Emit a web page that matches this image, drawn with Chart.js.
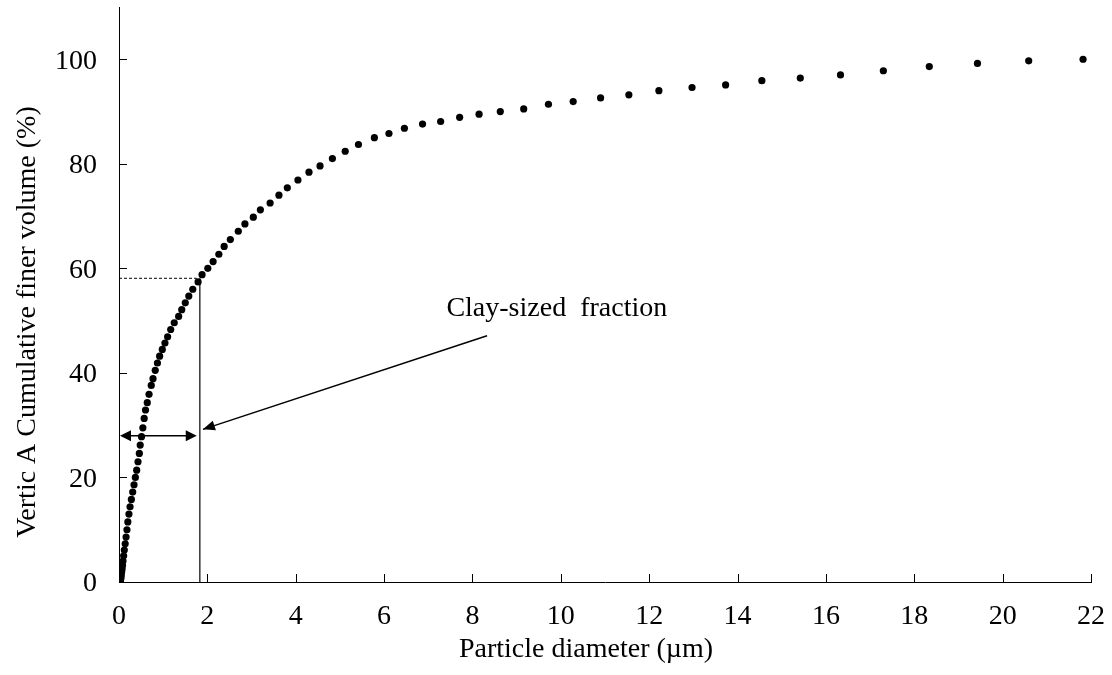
<!DOCTYPE html>
<html>
<head>
<meta charset="utf-8">
<script src="https://cdn.jsdelivr.net/npm/chart.js@4/dist/chart.umd.min.js"></script>
<style>
  html, body { margin: 0; padding: 0; background: #fff; }
  #wrap { position: relative; width: 1112px; height: 675px; }
</style>
</head>
<body>
<div id="wrap"><canvas id="chart"></canvas></div>
<script>
// particle size classes (µm) and cumulative finer volume (%)
const diameters = [
  21.82, 20.59, 19.43, 18.34, 17.30, 16.33, 15.42, 14.55, 13.73, 12.97,
  12.22, 11.54, 10.90, 10.28, 9.72, 9.16, 8.63, 8.15, 7.71, 7.28,
  6.87, 6.46, 6.11, 5.78, 5.42, 5.12, 4.83, 4.55, 4.30, 4.05,
  3.81, 3.62, 3.42, 3.20, 3.04, 2.85, 2.70, 2.52, 2.38, 2.26,
  2.13, 2.01, 1.88, 1.79, 1.67, 1.58, 1.50, 1.42, 1.35, 1.25,
  1.17, 1.10, 1.04, 0.98, 0.92, 0.87, 0.82, 0.77, 0.73, 0.68,
  0.64, 0.60, 0.57, 0.54, 0.51, 0.48, 0.46, 0.43, 0.40, 0.37,
  0.34, 0.31, 0.28, 0.25, 0.225, 0.20, 0.18, 0.16, 0.14, 0.12,
  0.105, 0.09, 0.08, 0.07, 0.06, 0.05, 0.045, 0.04, 0.035, 0.03,
  0.025, 0.02
];
const finerVolume = [
  100.0, 99.7, 99.2, 98.6, 97.8, 97.0, 96.4, 95.9, 95.1, 94.6,
  94.0, 93.2, 92.6, 91.9, 91.4, 90.5, 90.0, 89.5, 88.9, 88.1,
  87.6, 86.8, 85.8, 85.0, 83.7, 82.4, 81.0, 79.6, 78.4, 76.9,
  75.4, 74.0, 72.5, 71.2, 69.8, 68.5, 67.1, 65.5, 64.2, 62.7,
  61.3, 60.0, 58.8, 57.4, 56.0, 54.7, 53.4, 52.1, 50.8, 49.6,
  48.3, 46.9, 45.7, 44.5, 43.2, 41.9, 40.5, 38.9, 37.6, 35.9,
  34.3, 32.9, 31.3, 29.5, 27.8, 26.2, 24.6, 23.0, 21.4, 20.0,
  18.6, 17.2, 15.8, 14.4, 13.0, 11.5, 10.0, 8.6, 7.3, 6.1,
  5.0, 4.0, 3.2, 2.5, 1.9, 1.4, 1.0, 0.7, 0.45, 0.25,
  0.1, 0.0
];
const xTicks = [0, 2, 4, 6, 8, 10, 12, 14, 16, 18, 20, 22];
const yTicks = [0, 20, 40, 60, 80, 100];

// clay/silt boundary marker
const clayLimit = 1.83;
const clayFiner = 58.1;
const dashEnd = 1.76;
const spanLevel = 28;
const spanEnd = 1.76;
const pointerFrom = [8.33, 47.1];
const pointerTo = [1.90, 29.2];
const noteAt = [7.41, 50.9];
const noteText = 'Clay-sized  fraction';

const SERIF = '"Liberation Serif", "Times New Roman", serif';

function arrowHead(ctx, x1, y1, x2, y2, len, half) {
  const a = Math.atan2(y2 - y1, x2 - x1);
  ctx.beginPath();
  ctx.moveTo(x2, y2);
  ctx.lineTo(x2 - len * Math.cos(a) + half * Math.sin(a), y2 - len * Math.sin(a) - half * Math.cos(a));
  ctx.lineTo(x2 - len * Math.cos(a) - half * Math.sin(a), y2 - len * Math.sin(a) + half * Math.cos(a));
  ctx.closePath();
  ctx.fill();
}

// no extra room around the plot for edge labels
function noPadding(s) {
  s.paddingTop = 0;
  s.paddingBottom = 0;
  s.paddingLeft = 0;
  s.paddingRight = 0;
}

const extras = {
  id: 'extras',
  afterDraw(chart) {
    const {ctx, chartArea: area, scales: {x, y}} = chart;
    ctx.save();
    ctx.strokeStyle = '#000';
    ctx.fillStyle = '#000';

    // inward tick marks
    ctx.lineWidth = 1;
    ctx.beginPath();
    xTicks.forEach(v => {
      const px = Math.round(x.getPixelForValue(v)) + 0.5;
      ctx.moveTo(px, area.bottom);
      ctx.lineTo(px, area.bottom - 8);
    });
    yTicks.forEach(v => {
      const py = Math.round(y.getPixelForValue(v)) + 0.5;
      ctx.moveTo(area.left, py);
      ctx.lineTo(area.left + 8, py);
    });
    ctx.stroke();

    // vertical limit line
    ctx.lineWidth = 1.2;
    ctx.beginPath();
    ctx.moveTo(x.getPixelForValue(clayLimit), y.getPixelForValue(0));
    ctx.lineTo(x.getPixelForValue(clayLimit), y.getPixelForValue(clayFiner));
    ctx.stroke();

    // dashed reading line
    ctx.lineWidth = 1;
    ctx.setLineDash([3, 2]);
    ctx.beginPath();
    ctx.moveTo(x.getPixelForValue(0), y.getPixelForValue(clayFiner));
    ctx.lineTo(x.getPixelForValue(dashEnd), y.getPixelForValue(clayFiner));
    ctx.stroke();
    ctx.setLineDash([]);

    // double-headed span arrow
    const sy = y.getPixelForValue(spanLevel);
    const sx0 = x.getPixelForValue(0) + 1;
    const sx1 = x.getPixelForValue(spanEnd);
    ctx.lineWidth = 1.5;
    ctx.beginPath();
    ctx.moveTo(sx0 + 6, sy);
    ctx.lineTo(sx1 - 6, sy);
    ctx.stroke();
    arrowHead(ctx, sx1, sy, sx0, sy, 11, 5.5);
    arrowHead(ctx, sx0, sy, sx1, sy, 11, 5.5);

    // pointer from the note
    const px0 = x.getPixelForValue(pointerFrom[0]), py0 = y.getPixelForValue(pointerFrom[1]);
    const px1 = x.getPixelForValue(pointerTo[0]), py1 = y.getPixelForValue(pointerTo[1]);
    ctx.lineWidth = 1.5;
    ctx.beginPath();
    ctx.moveTo(px0, py0);
    ctx.lineTo(px1, py1);
    ctx.stroke();
    arrowHead(ctx, px0, py0, px1, py1, 12, 5);

    // note text
    ctx.font = '28px ' + SERIF;
    ctx.textAlign = 'left';
    ctx.textBaseline = 'alphabetic';
    ctx.fillText(noteText, x.getPixelForValue(noteAt[0]), y.getPixelForValue(noteAt[1]));

    // axis titles
    ctx.textAlign = 'center';
    ctx.fillText('Particle diameter (\u00b5m)', 586, 657);
    ctx.translate(35, 322);
    ctx.rotate(-Math.PI / 2);
    ctx.fillText('Vertic A Cumulative finer volume (%)', 0, 0);
    ctx.restore();
  }
};

const points = diameters.map((d, i) => ({x: d, y: finerVolume[i]}));

new Chart(document.getElementById('chart'), {
  type: 'scatter',
  data: {
    datasets: [{
      data: points,
      pointRadius: 3.6,
      pointHoverRadius: 3.6,
      pointBackgroundColor: '#000',
      pointBorderWidth: 0,
      showLine: false
    }]
  },
  options: {
    responsive: true,
    maintainAspectRatio: false,
    animation: false,
    events: [],
    layout: { padding: { top: 7, right: 21, left: 0, bottom: 0 } },
    plugins: {
      legend: { display: false },
      tooltip: { enabled: false }
    },
    scales: {
      x: {
        type: 'linear',
        min: 0,
        max: 22,
        afterBuildTicks: s => { s.ticks = xTicks.map(v => ({value: v})); },
        afterFit: s => { s.height = 93; noPadding(s); },
        grid: { display: false, drawTicks: false },
        border: { display: true, color: '#000', width: 1 },
        ticks: {
          padding: 18,
          color: '#000',
          font: { family: SERIF, size: 28 },
          maxRotation: 0
        }
      },
      y: {
        type: 'linear',
        min: 0,
        max: 110,
        afterBuildTicks: s => { s.ticks = yTicks.map(v => ({value: v})); },
        afterFit: s => { s.width = 119; noPadding(s); },
        grid: { display: false, drawTicks: false },
        border: { display: true, color: '#000', width: 1 },
        ticks: {
          padding: 22,
          labelOffset: 2,
          color: '#000',
          font: { family: SERIF, size: 28 }
        }
      }
    }
  },
  plugins: [extras]
});
</script>
</body>
</html>
